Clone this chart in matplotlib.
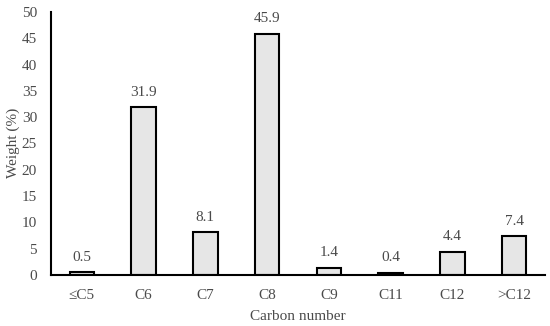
import matplotlib
matplotlib.use("Agg")
import matplotlib.pyplot as plt

categories = ["≤C5", "C6", "C7", "C8", "C9", "C11", "C12", ">C12"]
values = [0.5, 31.9, 8.1, 45.9, 1.4, 0.4, 4.4, 7.4]
labels = ["0.5", "31.9", "8.1", "45.9", "1.4", "0.4", "4.4", "7.4"]

plt.rcParams['font.family'] = ['Liberation Serif', 'DejaVu Serif']
txt = '#4a4a4a'
W, H = 550, 326

fig = plt.figure(figsize=(5.5, 3.26), dpi=100)
ax = fig.add_axes([51/W, 1-275/H, 494/W, 263/H])
x = range(len(categories))
bars = ax.bar(x, values, width=0.4, color='#e6e6e6', edgecolor='black', linewidth=1.5, zorder=2)
for xi, v, l in zip(x, values, labels):
    ax.text(xi, v + 1.6, l, ha='center', va='bottom', fontsize=11, color=txt)
ax.set_xlim(-0.5, 7.5)
ax.set_ylim(0, 50)
ax.set_yticks(range(0, 51, 5))
ax.set_xticks(list(x))
ax.set_xticklabels(categories)
ax.tick_params(length=0, labelsize=11, colors=txt)
ax.tick_params(axis='y', pad=10)
ax.tick_params(axis='x', pad=10)
for s in ['top', 'right']:
    ax.spines[s].set_visible(False)
ax.spines['left'].set_linewidth(1.5)
ax.spines['bottom'].set_linewidth(1.5)
fig.text(298/W, 1-316/H, 'Carbon number', fontsize=11, color=txt, ha='center', va='center')
fig.text(13/W, 1-143/H, 'Weight (%)', fontsize=11, color=txt, ha='center', va='center', rotation=90)
fig.savefig('out.png', dpi=100)
